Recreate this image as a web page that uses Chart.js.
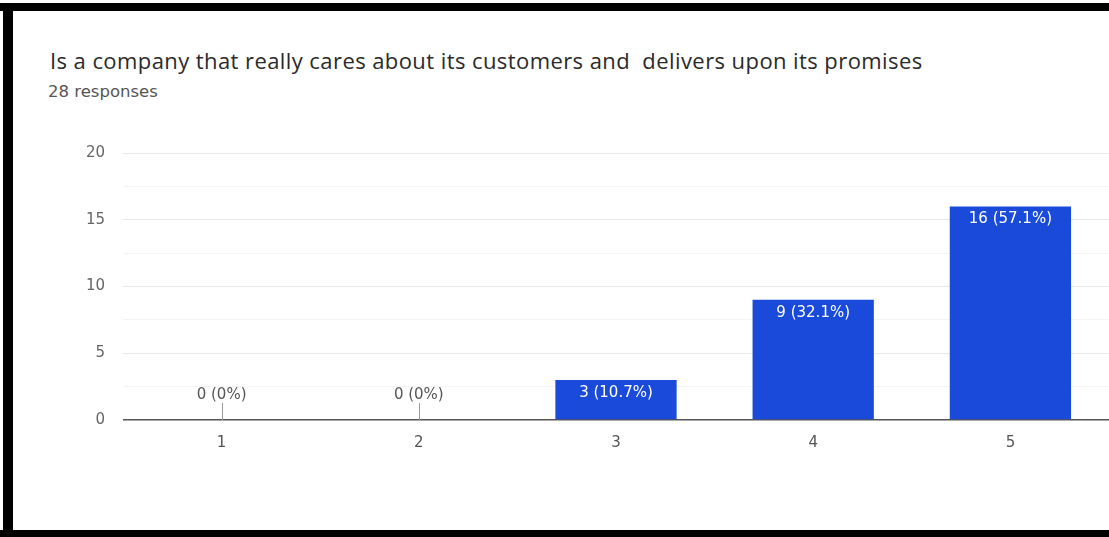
<!DOCTYPE html>
<html lang="en">
<head>
  <meta charset="UTF-8">
  <title>Survey responses</title>
  <script src="https://cdn.jsdelivr.net/npm/chart.js"></script>
  <style>
    body {
      margin: 0;
      width: 1109px;
      height: 537px;
      position: relative;
      background: #fff;
      overflow: hidden;
      font-family: 'DejaVu Sans', sans-serif;
    }
    .frame { position: absolute; background: #000; }
    #title {
      position: absolute;
      left: 50px;
      top: 45px;
      font-family: 'Open Sans', sans-serif;
      font-size: 22px;
      letter-spacing: 0.42px;
      color: #2a2a2a;
      white-space: pre;
    }
    #subtitle {
      position: absolute;
      left: 48px;
      top: 82px;
      font-size: 16.5px;
      color: #555;
    }
    #chartBox {
      position: absolute;
      left: 0;
      top: 126px;
      width: 1109px;
      height: 404px;
    }
  </style>
</head>
<body>
  <div class="frame" style="left:0;top:3px;width:1109px;height:8px"></div>
  <div class="frame" style="left:3px;top:3px;width:10px;height:534px"></div>
  <div class="frame" style="left:0;top:530px;width:1109px;height:7px"></div>
  <div id="title">Is a company that really cares about its customers and  delivers upon its promises</div>
  <div id="subtitle">28 responses</div>
  <div id="chartBox">
    <canvas id="barChart"></canvas>
  </div>
  <script>
    const categories = ['1', '2', '3', '4', '5'];
    const responses = [0, 0, 3, 9, 16];
    const yMax = 20;

    const total = responses.reduce((a, b) => a + b, 0);
    const pct = v => v === 0 ? '0%' : (v / total * 100).toFixed(1) + '%';
    const labelFont = '15px "DejaVu Sans", sans-serif';

    // value labels: inside the top of a bar, or above the axis with a stem for empty bars
    const valueLabels = {
      id: 'valueLabels',
      afterDatasetsDraw(chart) {
        const ctx = chart.ctx;
        const meta = chart.getDatasetMeta(0);
        const zeroY = chart.scales.y.getPixelForValue(0);
        ctx.save();
        ctx.font = labelFont;
        ctx.textAlign = 'center';
        ctx.textBaseline = 'middle';
        meta.data.forEach((bar, i) => {
          const v = responses[i];
          const text = v + ' (' + pct(v) + ')';
          if (v > 0) {
            ctx.fillStyle = '#ffffff';
            ctx.fillText(text, bar.x, bar.y + 13);
          } else {
            ctx.strokeStyle = '#999';
            ctx.lineWidth = 1;
            ctx.beginPath();
            ctx.moveTo(Math.round(bar.x) + 0.5, zeroY - 17);
            ctx.lineTo(Math.round(bar.x) + 0.5, zeroY);
            ctx.stroke();
            ctx.fillStyle = '#555';
            ctx.fillText(text, bar.x, zeroY - 25);
          }
        });
        ctx.restore();
      }
    };

    new Chart(document.getElementById('barChart'), {
      type: 'bar',
      data: {
        labels: categories,
        datasets: [{
          data: responses,
          backgroundColor: '#1a4ad9',
          barPercentage: 0.615,
          categoryPercentage: 1
        }]
      },
      options: {
        responsive: true,
        maintainAspectRatio: false,
        animation: false,
        layout: { padding: { top: 19 } },
        plugins: {
          legend: { display: false },
          tooltip: { enabled: false }
        },
        scales: {
          x: {
            grid: { display: false },
            border: { display: false },
            ticks: {
              color: '#555',
              padding: 6,
              font: { family: 'DejaVu Sans', size: 15 }
            },
            afterFit(scale) { scale.height = 110; }
          },
          y: {
            min: 0,
            max: yMax,
            border: { display: false },
            grid: {
              drawTicks: false,
              color: c => c.tick.value === 0 ? '#555' : (c.tick.value % 5 === 0 ? '#e8e8e8' : '#f4f4f4'),
              lineWidth: c => c.tick.value === 0 ? 1.5 : 1
            },
            ticks: {
              stepSize: 2.5,
              color: '#666',
              padding: 18,
              font: { family: 'DejaVu Sans', size: 15 },
              callback: v => v % 5 === 0 ? v : ''
            },
            afterFit(scale) { scale.width = 123; }
          }
        }
      },
      plugins: [valueLabels]
    });
  </script>
</body>
</html>
